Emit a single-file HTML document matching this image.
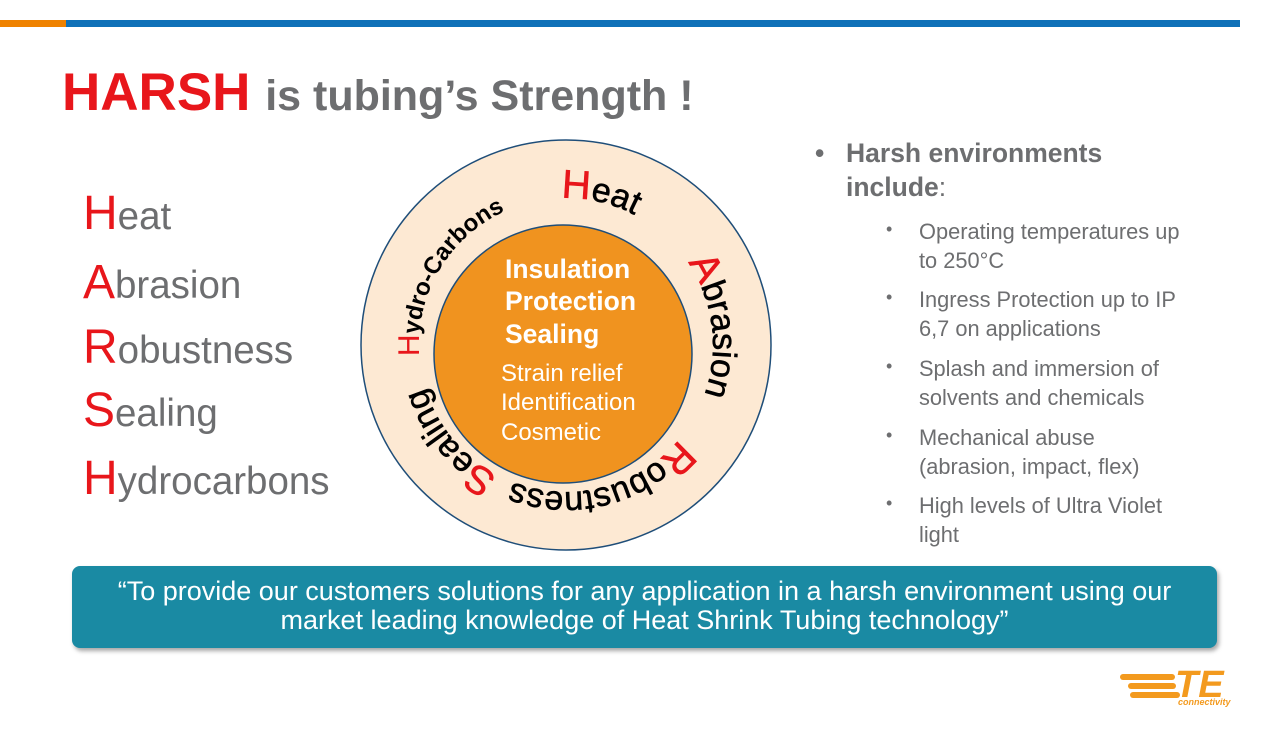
<!DOCTYPE html>
<html><head><meta charset="utf-8"><style>
body{margin:0;width:1270px;height:729px;background:#fff;position:relative;overflow:hidden;font-family:"Liberation Sans",sans-serif}
.a{position:absolute;white-space:nowrap}
.L{font-size:38.5px;color:#6d6e70;left:83px}
.L b{font-weight:normal;color:#e8161b;font-size:48px}
.s{font-size:21.8px;color:#6d6e70;left:919px;line-height:29px}
.d{font-size:18px;color:#6d6e70;left:886px}
</style></head><body>
<div class="a" style="left:0;top:20px;width:66px;height:7px;background:#ef8200"></div>
<div class="a" style="left:66px;top:20px;width:1174px;height:7px;background:#0f71b8"></div>
<div class="a" style="left:62px;top:62px;font-weight:bold;font-size:53px;color:#e8161b">HARSH <span style="color:#6d6e70;font-size:43px">is tubing’s Strength !</span></div>
<div class="a L" style="top:186px"><b>H</b>eat</div>
<div class="a L" style="top:255px"><b>A</b>brasion</div>
<div class="a L" style="top:320px"><b>R</b>obustness</div>
<div class="a L" style="top:383px"><b>S</b>ealing</div>
<div class="a L" style="top:451px"><b>H</b>ydrocarbons</div>
<svg class="a" style="left:0;top:0" width="1270" height="729">
<circle cx="566" cy="345" r="205" fill="#fde9d3" stroke="#1f4e79" stroke-width="1.5"/>
<circle cx="563" cy="354" r="129" fill="#f0931f" stroke="#1f4e79" stroke-width="1.5"/>
<path id="c" d="M566,198 A147,147 0 1,1 566,492 A147,147 0 1,1 566,198" fill="none"/>
<g font-family="Liberation Sans,sans-serif" font-size="34" stroke="#000" stroke-width="0.6">
<text text-anchor="middle"><textPath href="#c" startOffset="3.6%"><tspan fill="#e8161b" stroke="#e8161b" font-size="40">H</tspan>eat</textPath></text>
<text text-anchor="middle"><textPath href="#c" startOffset="23%"><tspan fill="#e8161b" stroke="#e8161b" font-size="40">A</tspan>brasion</textPath></text>
<text text-anchor="middle"><textPath href="#c" startOffset="46%"><tspan fill="#e8161b" stroke="#e8161b" font-size="40">R</tspan>obustness</textPath></text>
<text text-anchor="middle"><textPath href="#c" startOffset="64%"><tspan fill="#e8161b" stroke="#e8161b" font-size="40">S</tspan>ealing</textPath></text>
<text text-anchor="middle" font-weight="bold" font-size="24" stroke-width="0"><textPath href="#c" startOffset="83.5%"><tspan fill="#e8161b" font-weight="normal" font-size="30">H</tspan>ydro-Carbons</textPath></text>
</g>
<g fill="#fff" font-family="Liberation Sans,sans-serif">
<text x="505" y="278" font-size="26.5" font-weight="bold">Insulation</text>
<text x="505" y="310" font-size="26.5" font-weight="bold">Protection</text>
<text x="505" y="343" font-size="26.5" font-weight="bold">Sealing</text>
<text x="501" y="381" font-size="24">Strain relief</text>
<text x="501" y="410" font-size="24">Identification</text>
<text x="501" y="440" font-size="24">Cosmetic</text>
</g>
</svg>
<div class="a" style="left:815px;top:136px;font-size:26.5px;font-weight:bold;color:#6d6e70;line-height:34px">•</div>
<div class="a" style="left:846px;top:136px;font-size:26.5px;font-weight:bold;color:#6d6e70;line-height:34px">Harsh environments<br>include<span style="font-weight:normal">:</span></div>
<div class="a d" style="top:219px">•</div><div class="a s" style="top:217px">Operating temperatures up<br>to 250°C</div>
<div class="a d" style="top:287px">•</div><div class="a s" style="top:285px">Ingress Protection up to IP<br>6,7 on applications</div>
<div class="a d" style="top:356px">•</div><div class="a s" style="top:354px">Splash and immersion of<br>solvents and chemicals</div>
<div class="a d" style="top:425px">•</div><div class="a s" style="top:423px">Mechanical abuse<br>(abrasion, impact, flex)</div>
<div class="a d" style="top:493px">•</div><div class="a s" style="top:491px">High levels of Ultra Violet<br>light</div>
<div class="a" style="left:72px;top:566px;width:1145px;height:82px;background:#1a8aa3;border-radius:8px;box-shadow:2px 3px 4px rgba(0,0,0,.35);color:#fff;font-size:27px;text-align:center;line-height:29px;padding-top:11px;box-sizing:border-box">“To provide our customers solutions for any application in a harsh environment using our<br>market leading knowledge of Heat Shrink Tubing technology”</div>
<div class="a" style="left:1120px;top:674px;width:55px;height:6px;border-radius:3px;background:#f39a1e"></div>
<div class="a" style="left:1128px;top:683px;width:48px;height:6px;border-radius:3px;background:#f39a1e"></div>
<div class="a" style="left:1130px;top:692px;width:50px;height:6px;border-radius:3px;background:#f39a1e"></div>
<div class="a" style="left:1175px;top:664px;font-size:38px;font-weight:bold;font-style:italic;color:#f39a1e">TE</div>
<div class="a" style="left:1178px;top:697px;font-size:9px;font-style:italic;font-weight:bold;color:#f39a1e">connectivity</div>
</body></html>
